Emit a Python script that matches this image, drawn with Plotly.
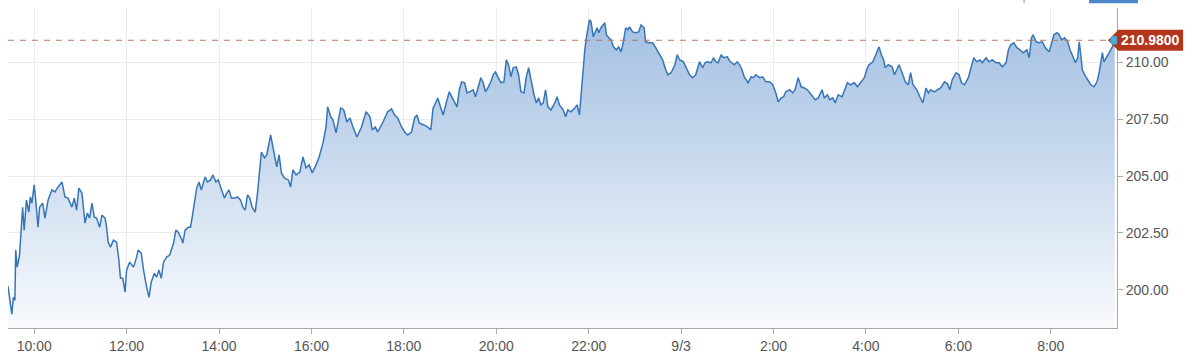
import plotly.graph_objects as go
from datetime import datetime, timedelta

# ---- data ----
times = [
    "09:26","09:29","09:31","09:33","09:35","09:36","09:38","09:41","09:45","09:47","09:50","09:53","09:55","09:57",
    "10:00","10:02","10:05","10:07","10:11","10:14","10:18","10:23","10:27","10:31","10:36","10:40","10:44","10:49",
    "10:52","10:55","10:58","11:02","11:06","11:09","11:12","11:15","11:18","11:21","11:25","11:28","11:32","11:34",
    "11:36","11:39","11:43","11:47","11:50","11:52","11:55","11:58","12:00","12:04","12:09","12:13","12:15","12:19",
    "12:22","12:26","12:29","12:32","12:36","12:39","12:42","12:45","12:48","12:52","12:56","13:01","13:04","13:07",
    "13:11","13:13","13:16","13:20","13:23","13:26","13:31","13:34","13:37","13:42","13:45","13:49","13:52","13:56",
    "13:59","14:02","14:07","14:10","14:13","14:16","14:21","14:24","14:28","14:31","14:34","14:37","14:40","14:43",
    "14:47","14:50","14:53","14:55","14:59","15:02","15:04","15:07","15:10","15:15","15:18","15:21","15:25","15:30",
    "15:33","15:36","15:40","15:45","15:49","15:53","15:57","16:01","16:06","16:10","16:15","16:19","16:21","16:25",
    "16:28","16:32","16:38","16:42","16:46","16:50","16:54","16:59","17:05","17:11","17:16","17:19","17:23","17:26",
    "17:33","17:39","17:44","17:48","17:52","17:57","18:01","18:05","18:10","18:14","18:17","18:20","18:26","18:31",
    "18:35","18:38","18:42","18:44","18:48","18:51","18:55","18:59","19:03","19:06","19:09","19:12","19:15","19:19",
    "19:22","19:25","19:30","19:33","19:36","19:40","19:43","19:46","19:49","19:53","19:56","19:59","20:02","20:06",
    "20:10","20:13","20:16","20:19","20:22","20:26","20:29","20:32","20:36","20:39","20:42","20:45","20:49","20:52",
    "20:55","20:58","21:01","21:04","21:07","21:11","21:16","21:19","21:22","21:27","21:30","21:33","21:37","21:42",
    "21:45","21:48","21:52","21:55","21:57","21:59","22:01","22:03","22:06","22:08","22:11","22:13","22:16","22:21",
    "22:23","22:26","22:29","22:32","22:36","22:39","22:42","22:45","22:48","22:51","22:53","22:57","23:01","23:05",
    "23:08","23:12","23:14","23:18","23:23","23:27","23:31","23:36","23:40","23:43","23:47","23:52","23:55","23:58",
    "00:03","00:06","00:11","00:15","00:19","00:24","00:28","00:31","00:34","00:39","00:42","00:45","00:48","00:52",
    "00:55","01:00","01:04","01:09","01:13","01:16","01:19","01:22","01:27","01:31","01:34","01:37","01:42","01:46",
    "01:50","01:55","01:59","02:03","02:06","02:10","02:13","02:16","02:21","02:25","02:28","02:32","02:36","02:40",
    "02:44","02:49","02:54","02:58","03:03","03:06","03:10","03:13","03:17","03:20","03:24","03:29","03:33","03:36",
    "03:40","03:45","03:49","03:53","03:58","04:01","04:04","04:09","04:12","04:15","04:17","04:20","04:23","04:25",
    "04:29","04:34","04:37","04:40","04:43","04:47","04:51","04:55","04:58","05:01","05:06","05:10","05:14","05:18",
    "05:21","05:24","05:29","05:33","05:37","05:42","05:46","05:49","05:52","05:57","06:01","06:04","06:08","06:13",
    "06:17","06:20","06:24","06:28","06:31","06:36","06:40","06:44","06:49","06:53","06:57","07:02","07:05","07:08",
    "07:12","07:16","07:20","07:24","07:29","07:32","07:35","07:37","07:41","07:45","07:49","07:53","07:58","08:01",
    "08:04","08:08","08:11","08:14","08:18","08:22","08:25","08:29","08:32","08:35","08:37","08:39","08:41","08:44",
    "08:48","08:52","08:56","09:00","09:03","09:05","09:07","09:09","09:13","09:16","09:20","09:23",
]

prices = [
    200.15,199.31,198.92,199.66,199.53,201.74,200.99,201.52,203.63,202.62,203.94,203.41,204.08,203.81,
    204.61,203.94,202.75,203.63,203.81,203.15,203.94,204.39,204.30,204.52,204.74,204.08,204.03,203.63,
    204.03,203.50,204.47,204.25,202.93,203.37,203.15,203.81,203.19,203.15,202.75,203.28,203.15,202.75,
    202.09,201.87,202.18,202.09,201.30,200.50,200.50,199.89,200.86,201.21,200.99,201.43,201.74,201.61,
    200.86,200.11,199.66,200.33,200.72,200.55,200.86,200.50,201.21,201.43,201.52,202.05,202.62,202.53,
    202.26,202.05,202.62,202.75,202.75,203.37,204.47,204.74,204.39,204.96,204.74,204.83,205.05,204.74,
    204.83,204.52,204.03,204.25,204.39,204.03,204.03,204.08,203.94,203.63,203.50,204.17,204.03,203.63,
    203.41,204.25,205.18,206.06,205.80,205.93,206.28,206.81,206.28,205.40,205.93,205.14,204.91,204.83,
    204.52,205.27,205.05,205.18,205.84,205.36,205.49,205.14,205.49,205.84,206.46,207.16,208.05,207.61,
    207.47,206.90,208.00,207.91,207.38,207.56,207.16,206.72,207.16,207.83,207.61,207.03,207.16,206.94,
    207.38,207.83,207.96,207.69,207.56,207.16,206.94,206.81,206.94,207.56,207.69,207.34,207.25,207.16,
    207.03,208.00,208.27,208.44,208.00,207.69,208.22,208.71,208.44,208.27,208.05,208.80,209.15,209.11,
    208.66,208.71,208.80,208.49,208.88,209.33,209.11,208.71,208.88,209.15,209.46,209.59,209.37,209.11,
    209.15,210.12,209.90,209.37,209.77,209.81,209.46,208.71,208.66,209.37,209.77,209.24,208.58,208.22,
    208.44,208.13,208.22,208.80,208.05,207.91,208.22,208.49,208.13,207.91,207.61,207.91,207.83,208.00,
    208.13,207.69,209.55,210.56,211.09,211.44,211.88,211.80,211.13,211.31,211.53,211.31,211.53,211.75,
    211.22,211.09,211.00,210.69,210.56,210.69,210.47,210.91,211.53,211.44,211.57,211.35,211.31,211.35,
    211.66,211.53,210.91,210.87,210.87,210.65,210.43,210.12,209.68,209.46,209.55,209.90,210.34,210.12,
    210.03,209.81,209.46,209.33,209.46,210.03,209.77,209.99,210.03,209.99,210.21,210.03,209.99,210.34,
    210.21,210.25,210.03,209.90,210.03,209.90,209.68,209.37,209.11,209.37,209.33,209.46,209.33,209.37,
    209.15,209.15,209.02,208.66,208.27,208.44,208.49,208.71,208.80,208.66,208.80,209.33,208.93,208.88,
    208.80,208.58,208.36,208.44,208.80,208.44,208.58,208.36,208.44,208.22,208.58,208.49,208.80,209.11,
    209.02,209.11,208.93,209.11,209.33,209.68,209.90,210.03,210.25,210.47,210.69,210.34,210.12,209.77,
    209.90,209.81,209.46,209.68,209.90,209.55,209.15,209.02,209.55,209.02,208.80,208.49,208.22,208.88,
    208.66,208.80,208.71,208.80,208.88,209.15,209.06,208.80,209.24,209.55,209.46,209.11,209.02,209.33,
    209.81,210.21,210.03,210.12,209.99,210.21,210.03,210.12,209.99,209.99,209.81,209.99,210.56,210.78,
    210.87,210.65,210.56,210.43,210.56,210.21,211.09,211.22,210.91,210.87,210.91,210.65,210.47,210.87,
    211.22,211.31,211.22,211.00,211.09,210.91,210.56,210.25,209.99,210.21,210.91,210.34,209.68,209.46,
    209.24,209.02,208.93,209.15,209.59,210.12,210.43,210.03,210.25,210.43,210.69,210.98,
]

start_day = "2015-09-02"
x_range = ["2015-09-02 09:26", "2015-09-03 09:26"]
y_range = [198.31, 212.40]

tick_times = ["2015-09-02 10:00", "2015-09-02 12:00", "2015-09-02 14:00", "2015-09-02 16:00",
              "2015-09-02 18:00", "2015-09-02 20:00", "2015-09-02 22:00", "2015-09-03 00:00",
              "2015-09-03 02:00", "2015-09-03 04:00", "2015-09-03 06:00", "2015-09-03 08:00"]
tick_labels = ["10:00", "12:00", "14:00", "16:00", "18:00", "20:00", "22:00", "9/3",
               "2:00", "4:00", "6:00", "8:00"]
y_ticks = [200.0, 202.5, 205.0, 207.5, 210.0]
last_price = 210.98
last_label = "210.9800"

# ---- build timestamps (roll over to next day after midnight) ----
day = datetime.strptime(start_day, "%Y-%m-%d")
stamps, prev = [], None
for t in times:
    h, m = map(int, t.split(":"))
    if prev is not None and (h, m) < prev:
        day += timedelta(days=1)
    prev = (h, m)
    stamps.append(day.replace(hour=h, minute=m))

fig = go.Figure()
fig.add_trace(go.Scatter(
    x=stamps, y=prices, mode="lines",
    line=dict(color="#3676b8", width=1.5),
    fill="tozeroy",
    fillgradient=dict(type="vertical",
                      colorscale=[[0, "#f8fafd"], [1, "#a2bfe1"]],
                      start=y_range[0], stop=212.0),
    hoverinfo="skip", showlegend=False,
))

font_family = "Liberation Sans, Arial, sans-serif"
tag_color = "#b3351c"

fig.update_layout(
    width=1200, height=362,
    margin=dict(l=8, r=83, t=8, b=34),
    paper_bgcolor="white", plot_bgcolor="white",
    font=dict(family=font_family, size=14, color="#555555"),
    showlegend=False,
    xaxis=dict(
        type="date", range=x_range,
        tickmode="array", tickvals=tick_times, ticktext=tick_labels,
        showgrid=True, gridcolor="#ececec", gridwidth=1,
        showline=True, linecolor="#a8a8a8", linewidth=1,
        ticks="outside", ticklen=5, tickcolor="#a8a8a8",
        tickfont=dict(size=14, color="#555555"),
        zeroline=False, fixedrange=True,
    ),
    yaxis=dict(
        side="right", range=y_range,
        tickmode="array", tickvals=y_ticks, tickformat=".2f",
        showgrid=True, gridcolor="#ececec", gridwidth=1,
        showline=True, linecolor="#a8a8a8", linewidth=1,
        ticks="outside", ticklen=5, tickcolor="#a8a8a8",
        tickfont=dict(size=14, color="#555555"),
        zeroline=False, fixedrange=True,
    ),
    shapes=[
        # dashed last-price line
        dict(type="line", xref="paper", yref="y", x0=0, x1=1, y0=last_price, y1=last_price,
             line=dict(color="#b8785e", width=1, dash="6px,6px"), layer="above"),
        # price tag: arrow + body
        dict(type="path", xref="paper", yref="y",
             path=f"M 0.9919,{last_price} L 1.0012,{last_price + 0.46} L 1.0012,{last_price - 0.46} Z",
             fillcolor=tag_color, line=dict(width=0), layer="above"),
        dict(type="rect", xref="paper", yref="y", x0=1.0009, x1=1.0596,
             y0=last_price - 0.46, y1=last_price + 0.46,
             fillcolor=tag_color, line=dict(width=0), layer="above"),
        # last-point dot, anchored on the last data point
        dict(type="circle", xref="x", yref="y", xsizemode="pixel", ysizemode="pixel",
             xanchor=stamps[-1], yanchor=prices[-1], x0=-4.5, x1=4.5, y0=-4.5, y1=4.5,
             fillcolor="#48aed9", line=dict(width=0), layer="above"),
        # partial toolbar button cut at the top right
        dict(type="rect", xref="paper", yref="paper", x0=0.9748, x1=1.0189, y0=1.0150, y1=1.03,
             fillcolor="#4a86c8", line=dict(width=0)),
        dict(type="line", xref="paper", yref="paper", x0=0.9162, x1=0.9162, y0=1.0150, y1=1.03,
             line=dict(color="#888888", width=1)),
    ],
    annotations=[
        dict(x=1.0299, xref="paper", y=last_price, yref="y", xanchor="center", yanchor="middle",
             text=f"<b>{last_label}</b>", showarrow=False,
             font=dict(color="white", size=14, family=font_family)),
    ],
)

fig.write_html("out.html")
